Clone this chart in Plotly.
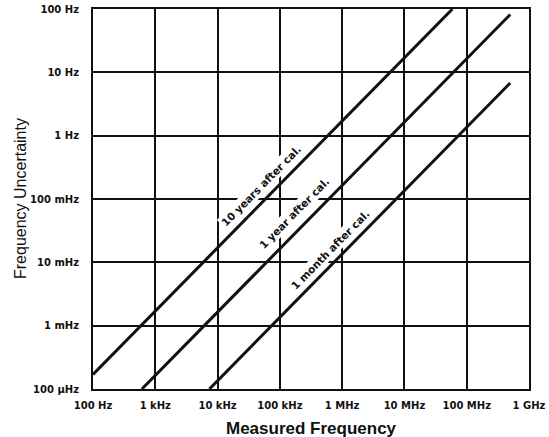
import math
import plotly.graph_objects as go

# Frequency axis ticks (Hz) and labels
freq_ticks = [1e2, 1e3, 1e4, 1e5, 1e6, 1e7, 1e8, 1e9]
freq_labels = ["100 Hz", "1 kHz", "10 kHz", "100 kHz", "1 MHz", "10 MHz", "100 MHz", "1 GHz"]

# Uncertainty axis ticks (Hz) and labels
unc_ticks = [1e-4, 1e-3, 1e-2, 1e-1, 1e0, 1e1, 1e2]
unc_labels = ["100 \u00b5Hz", "1 mHz", "10 mHz", "100 mHz", "1 Hz", "10 Hz", "100 Hz"]

# Aging curves: measured frequency vs. uncertainty (end points)
ten_years_freq = [1e2, 5.9e7]
ten_years_unc = [1.7e-4, 100]
one_year_freq = [6.1e2, 5e8]
one_year_unc = [1e-4, 82]
one_month_freq = [7.4e3, 5e8]
one_month_unc = [1e-4, 6.8]

# Label text and anchor positions (freq, uncertainty)
curve_labels = ["10 years after cal.", "1 year after cal.", "1 month after cal."]
label_freq = [4.9e4, 1.7e5, 6.3e5]
label_unc = [0.162, 0.060, 0.0158]

FONT = "DejaVu Sans, Liberation Sans, Arial"
INK = "#111"

fig = go.Figure()

for xs, ys in [(ten_years_freq, ten_years_unc),
               (one_year_freq, one_year_unc),
               (one_month_freq, one_month_unc)]:
    fig.add_trace(go.Scatter(
        x=xs, y=ys, mode="lines",
        line=dict(color=INK, width=3),
        showlegend=False, hoverinfo="skip"
    ))

# annotations on log axes take log10 positions
for txt, fx, uy in zip(curve_labels, label_freq, label_unc):
    fig.add_annotation(
        x=math.log10(fx), y=math.log10(uy), xref="x", yref="y",
        text=txt, showarrow=False, textangle=-45.5,
        font=dict(family=FONT, size=10.5, color=INK, weight="bold"),
        bgcolor="white", borderpad=1
    )

# axis titles placed as paper annotations
fig.add_annotation(
    x=0.5, y=0, xref="paper", yref="paper", yanchor="middle",
    yshift=-39, showarrow=False, text="Measured Frequency",
    font=dict(family="Liberation Sans, Arial", size=17, color=INK, weight="bold")
)
fig.add_annotation(
    x=0, y=0.5, xref="paper", yref="paper", xanchor="center",
    xshift=-73, showarrow=False, text="Frequency Uncertainty", textangle=-90,
    font=dict(family="Liberation Sans, Arial", size=16, color=INK)
)

axis_common = dict(
    type="log", showgrid=True, gridcolor=INK, gridwidth=1.6,
    showline=True, linecolor=INK, linewidth=2, mirror=True,
    zeroline=False, ticks="", minor=dict(showgrid=False), automargin=False,
    tickfont=dict(family=FONT, size=10, color=INK, weight="bold"),
)

fig.update_xaxes(
    range=[2, 9], tickvals=freq_ticks, ticktext=freq_labels,
    ticklabelstandoff=6, **axis_common
)
fig.update_yaxes(
    range=[-4, 2], tickvals=unc_ticks, ticktext=unc_labels,
    ticklabelstandoff=10, **axis_common
)

fig.update_layout(
    width=549, height=437,
    margin=dict(l=93, r=20, t=9, b=48),
    plot_bgcolor="white", paper_bgcolor="white",
    showlegend=False
)

# drop the default page margin so the figure sits at the window origin
fig.write_html(
    "out.html",
    config={"displayModeBar": False},
    post_script="document.body.style.margin='0';"
)
